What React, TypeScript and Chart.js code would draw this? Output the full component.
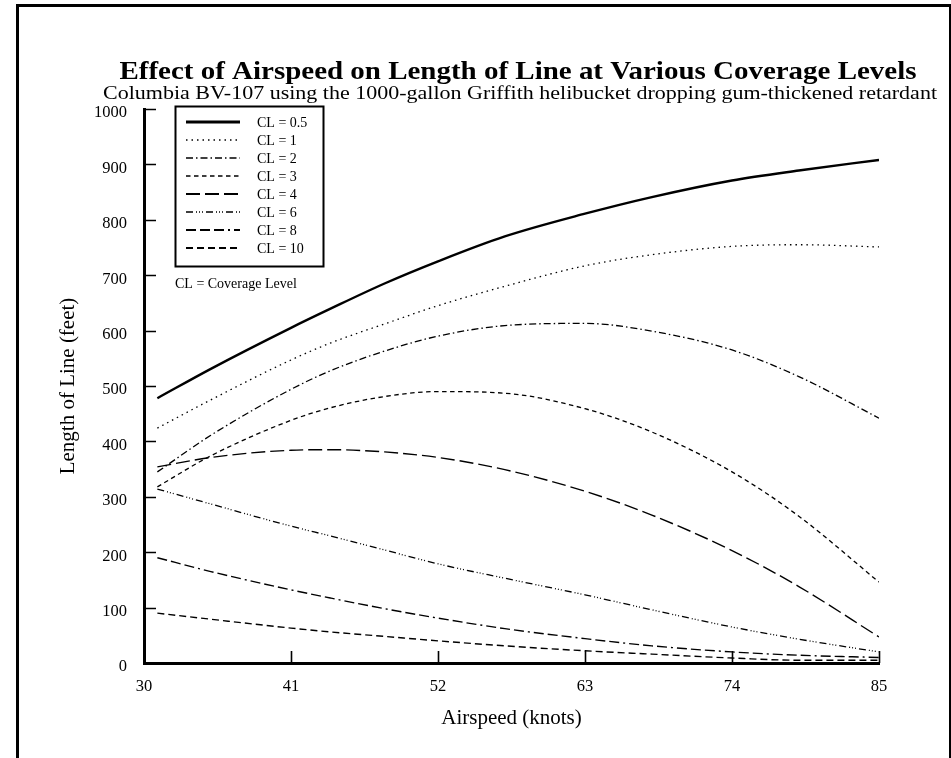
import React, { useEffect, useRef } from "react";
import { Chart, registerables } from "chart.js";

Chart.register(...registerables);

const airspeed = [31, 35, 41, 44, 48, 52, 57, 63, 68, 74, 79, 85];
const cl05 = [478, 531, 605, 640, 685, 725, 770, 811, 841, 871, 889, 908];
const cl1 = [424, 475, 547, 578, 612, 645, 680, 717, 737, 752, 755, 751];
const cl2 = [345, 411, 494, 528, 563, 590, 609, 613, 599, 565, 517, 442];
const cl3 = [318, 374, 438, 461, 481, 490, 487, 459, 417, 345, 265, 146];
const cl4 = [354, 371, 384, 385, 381, 371, 349, 310, 267, 203, 138, 47];
const cl6 = [314, 287, 247, 229, 204, 179, 153, 123, 96, 65, 43, 20];
const cl8 = [190, 165, 132, 117, 98, 81, 62, 44, 31, 20, 14, 10];
const cl10 = [90, 79, 63, 56, 48, 40, 31, 22, 16, 9, 5, 5];

const seriesLabels = ["CL = 0.5", "CL = 1", "CL = 2", "CL = 3", "CL = 4", "CL = 6", "CL = 8", "CL = 10"];
const seriesValues = [cl05, cl1, cl2, cl3, cl4, cl6, cl8, cl10];
const seriesDash: number[][] = [
  [],
  [1.5, 4],
  [7, 3, 1.5, 3],
  [4.5, 3.5],
  [14, 5],
  [7, 3, 1, 2, 1, 2, 1, 3],
  [10, 4, 10, 4, 10, 4, 2, 4],
  [7, 4],
];
const seriesWidth = [2.4, 1.3, 1.3, 1.3, 1.4, 1.3, 1.4, 1.4];
const legendWidth = [3, 1.3, 1.5, 1.5, 2, 1.5, 2, 2];

const xMin = 30;
const xMax = 85;
const xStep = 11;
const yMin = 0;
const yMax = 1000;
const yStep = 100;

const titleText = "Effect of Airspeed on Length of Line at Various Coverage Levels";
const subtitleText = "Columbia BV-107 using the 1000-gallon Griffith helibucket dropping gum-thickened retardant";
const xTitle = "Airspeed (knots)";
const yTitle = "Length of Line (feet)";
const legendNote = "CL = Coverage Level";

const SERIF = "'Liberation Serif', 'Times New Roman', Times, serif";

function fillStretched(ctx: CanvasRenderingContext2D, text: string, cx: number, baseline: number, font: string, targetWidth: number) {
  ctx.save();
  ctx.font = font;
  ctx.textAlign = "center";
  ctx.textBaseline = "alphabetic";
  const w = ctx.measureText(text).width;
  const sx = w > 0 ? targetWidth / w : 1;
  ctx.translate(cx, baseline);
  ctx.scale(sx, 1);
  ctx.fillText(text, 0, 0);
  ctx.restore();
}

const decoPlugin = {
  id: "deco",
  afterDraw(chart: any) {
    const ctx: CanvasRenderingContext2D = chart.ctx;
    const xs = chart.scales.x;
    const ys = chart.scales.y;
    const area = chart.chartArea;
    ctx.save();

    // frame
    ctx.strokeStyle = "#000";
    ctx.lineWidth = 3;
    ctx.strokeRect(17.5, 5.5, 933, 800);

    // inward ticks
    ctx.lineWidth = 1.6;
    ctx.beginPath();
    ys.ticks.forEach((_t: any, i: number) => {
      const py = Math.round(ys.getPixelForTick(i)) + 0.5;
      ctx.moveTo(area.left, py);
      ctx.lineTo(area.left + 12, py);
    });
    xs.ticks.forEach((_t: any, i: number) => {
      const px = Math.round(xs.getPixelForTick(i)) + 0.5;
      ctx.moveTo(px, area.bottom);
      ctx.lineTo(px, area.bottom - 12);
    });
    ctx.stroke();

    // titles
    ctx.fillStyle = "#000";
    fillStretched(ctx, titleText, 518, 79, `bold 26px ${SERIF}`, 797);
    fillStretched(ctx, subtitleText, 520, 99, `19px ${SERIF}`, 834);

    // axis titles
    ctx.textAlign = "center";
    ctx.textBaseline = "middle";
    ctx.font = `21px ${SERIF}`;
    ctx.fillText(xTitle, (area.left + area.right) / 2, area.bottom + 55);
    ctx.save();
    ctx.translate(area.left - 76, (area.top + area.bottom) / 2);
    ctx.rotate(-Math.PI / 2);
    ctx.fillText(yTitle, 0, 0);
    ctx.restore();

    // legend
    const lx = 175, ly = 106, lw = 148, lh = 160;
    ctx.fillStyle = "#fff";
    ctx.fillRect(lx, ly, lw, lh);
    ctx.strokeStyle = "#000";
    ctx.lineWidth = 2;
    ctx.strokeRect(lx + 0.5, ly + 0.5, lw, lh);
    ctx.font = `14px ${SERIF}`;
    ctx.textAlign = "left";
    ctx.fillStyle = "#000";
    chart.data.datasets.forEach((ds: any, i: number) => {
      const ry = 122 + i * 18;
      ctx.save();
      ctx.setLineDash(ds.borderDash || []);
      ctx.lineWidth = legendWidth[i];
      ctx.beginPath();
      ctx.moveTo(186, ry);
      ctx.lineTo(240, ry);
      ctx.stroke();
      ctx.restore();
      ctx.fillText(ds.label, 257, ry + 1);
    });
    ctx.fillText(legendNote, 175, 284);
    ctx.restore();
  },
};

export default function App() {
  const ref = useRef<HTMLCanvasElement | null>(null);
  useEffect(() => {
    if (!ref.current) return;
    const datasets = seriesLabels.map((label, i) => ({
      label,
      data: airspeed.map((x, j) => ({ x, y: seriesValues[i][j] })),
      borderColor: "#000",
      backgroundColor: "#000",
      borderWidth: seriesWidth[i],
      borderDash: seriesDash[i],
      pointRadius: 0,
      fill: false,
      cubicInterpolationMode: "monotone" as const,
    }));
    const chart = new Chart(ref.current, {
      type: "line",
      data: { datasets },
      options: {
        animation: false,
        responsive: false,
        maintainAspectRatio: false,
        layout: { padding: { top: 109, right: 72, left: 0, bottom: 0 } },
        plugins: {
          legend: { display: false },
          title: { display: false },
          tooltip: { enabled: false },
        },
        scales: {
          x: {
            type: "linear",
            min: xMin,
            max: xMax,
            afterFit: (s: any) => {
              s.height = 95;
            },
            ticks: {
              stepSize: xStep,
              color: "#000",
              padding: 14,
              maxRotation: 0,
              font: { family: SERIF, size: 16.5 },
              callback: (v: any) => String(v),
            },
            grid: { display: true, drawOnChartArea: false, drawTicks: false },
            border: { display: true, color: "#000", width: 3 },
          },
          y: {
            type: "linear",
            min: yMin,
            max: yMax,
            afterFit: (s: any) => {
              s.width = 144;
            },
            ticks: {
              stepSize: yStep,
              color: "#000",
              padding: 17,
              labelOffset: 4,
              font: { family: SERIF, size: 16.5 },
              callback: (v: any) => String(v),
            },
            grid: { display: true, drawOnChartArea: false, drawTicks: false },
            border: { display: true, color: "#000", width: 3 },
          },
        },
      },
      plugins: [decoPlugin],
    });
    return () => chart.destroy();
  }, []);
  return (
    <div style={{ position: "fixed", left: 0, top: 0, width: 951, height: 758, background: "#fff" }}>
      <canvas ref={ref} width={951} height={758} style={{ width: 951, height: 758, display: "block" }} />
    </div>
  );
}
